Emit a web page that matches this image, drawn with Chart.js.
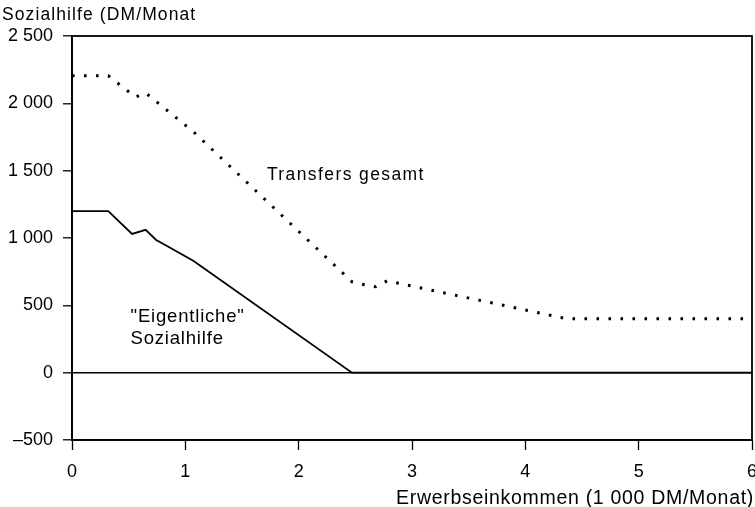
<!DOCTYPE html>
<html>
<head>
<meta charset="utf-8">
<script src="https://cdn.jsdelivr.net/npm/chart.js@4.4.1/dist/chart.umd.min.js"></script>
<style>
html,body{margin:0;padding:0;background:#fff;}
#wrap{width:755px;height:507px;position:relative;}
</style>
</head>
<body>
<div id="wrap"><canvas id="c" width="755" height="507"></canvas></div>
<script>
// Data
const transfersX = [0, 0.32, 0.56, 0.65, 1.07, 2.47, 2.58, 2.68, 2.78, 4.37, 6];
const transfersY = [2205, 2205, 2047, 2077, 1790, 675, 653, 638, 682, 400, 400];
const sozialX = [0, 0.32, 0.53, 0.65, 0.74, 1.07, 2.47, 6];
const sozialY = [1200, 1200, 1030, 1061, 987, 831, 0, 0];
const xTicks = [0, 1, 2, 3, 4, 5, 6];
const yTicks = [-500, 0, 500, 1000, 1500, 2000, 2500];
const yTitle = "Sozialhilfe (DM/Monat";
const xTitle = "Erwerbseinkommen (1 000 DM/Monat)";
const labelTransfers = "Transfers gesamt";
const labelSozial = ['"Eigentliche"', 'Sozialhilfe'];

const FONT = "'Liberation Sans', Arial, Helvetica, sans-serif";

function fmt(v){
  const a = Math.abs(v);
  let s = a >= 1000 ? String(Math.floor(a/1000)) + " " + String(a%1000).padStart(3,"0") : String(a);
  return (v < 0 ? "\u2013" : "") + s;
}

function txt(ctx, s, x, y, size, ls, align){
  ctx.font = size + "px " + FONT;
  ctx.letterSpacing = ls + "px";
  ctx.textAlign = align || 'left';
  ctx.textBaseline = 'alphabetic';
  ctx.fillText(s, x, y);
}

const textPlugin = {
  id: 'texts',
  afterDraw(chart){
    const ctx = chart.ctx, a = chart.chartArea, xs = chart.scales.x, ys = chart.scales.y;
    ctx.save();
    ctx.strokeStyle = '#000';
    ctx.lineWidth = 1.8;
    ctx.strokeRect(a.left, a.top, a.right - a.left, a.bottom - a.top);
    ctx.fillStyle = '#000';
    txt(ctx, yTitle, 2, 20, 17.5, 1.1);
    txt(ctx, labelTransfers, xs.getPixelForValue(1.72), ys.getPixelForValue(1432), 17.5, 1.4);
    txt(ctx, labelSozial[0], xs.getPixelForValue(0.517), ys.getPixelForValue(376), 18.5, 0.8);
    txt(ctx, labelSozial[1], xs.getPixelForValue(0.517), ys.getPixelForValue(213), 18.5, 0.8);
    txt(ctx, xTitle, 754, 504, 19.5, 0.7, 'right');
    ctx.restore();
  }
};

new Chart(document.getElementById('c'), {
  type: 'line',
  data: {
    datasets: [
      {
        label: labelTransfers,
        data: transfersX.map((x,i)=>({x:x, y:transfersY[i]})),
        borderColor: '#000',
        borderWidth: 3,
        borderDash: [2.6, 9.4],
        borderCapStyle: 'butt',
        pointRadius: 0,
        fill: false,
        tension: 0
      },
      {
        label: labelSozial.join(' '),
        data: sozialX.map((x,i)=>({x:x, y:sozialY[i]})),
        borderColor: '#000',
        borderWidth: 1.8,
        pointRadius: 0,
        fill: false,
        tension: 0
      }
    ]
  },
  plugins: [textPlugin],
  options: {
    responsive: false,
    animation: false,
    layout: { padding: { top: 36, right: 3, left: 0, bottom: 0 } },
    plugins: { legend: { display: false }, tooltip: { enabled: false } },
    scales: {
      x: {
        type: 'linear',
        min: 0, max: 6,
        afterBuildTicks(s){ s.ticks = xTicks.map(v=>({value:v})); },
        afterFit(s){ s.height = 67; s.paddingLeft = 0; s.paddingRight = 0; },
        border: { display: true, color: '#000', width: 1.8 },
        grid: { drawOnChartArea: false, tickLength: 10, tickColor: '#000', tickWidth: 1.3 },
        ticks: { color: '#000', font: { family: FONT, size: 18 }, padding: 11, maxRotation: 0,
                 callback: v => String(v) }
      },
      y: {
        type: 'linear',
        min: -500, max: 2500,
        afterBuildTicks(s){ s.ticks = yTicks.map(v=>({value:v})); },
        afterFit(s){ s.width = 72; s.paddingTop = 0; s.paddingBottom = 0; },
        border: { display: true, color: '#000', width: 1.8 },
        grid: {
          color: c => (c.tick && c.tick.value === 0) ? '#000' : 'rgba(0,0,0,0)',
          lineWidth: 1.6,
          tickLength: 9, tickColor: '#000', tickWidth: 1.3
        },
        ticks: { color: '#000', font: { family: FONT, size: 18 }, padding: 10,
                 callback: v => fmt(v) }
      }
    }
  }
});
</script>
</body>
</html>
